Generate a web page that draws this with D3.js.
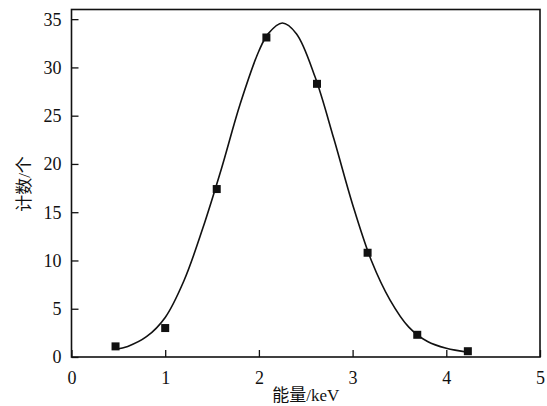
<!DOCTYPE html>
<html><head><meta charset="utf-8">
<script src="https://cdn.jsdelivr.net/npm/d3@7"></script>
<style>body{margin:0;background:#fff}</style>
</head><body>
<svg id="c" width="547" height="406"></svg>
<script>
const pointX = [0.47, 1.0, 1.55, 2.08, 2.62, 3.16, 3.69, 4.23];
const pointY = [1.1, 3.0, 17.4, 33.1, 28.3, 10.8, 2.3, 0.6];
const curveX = [0.47,0.6,0.8,1.0,1.2,1.4,1.6,1.8,2.0,2.1,2.25,2.4,2.6,2.8,3.0,3.2,3.4,3.6,3.8,4.0,4.23];
const curveY = [0.8,1.1,2.1,4.1,7.9,13.3,19.5,26.2,31.7,33.5,34.6,33.5,29.0,22.6,15.8,10.0,5.9,3.1,1.6,0.9,0.5];
const xTicks = [0,1,2,3,4,5];
const yTicks = [0,5,10,15,20,25,30,35];
const xLabel = "能量/keV";
const yLabel = "计数/个";

const svg = d3.select("#c");
const L = 71.5, R = 540, T = 9.5, B = 357;
const x = d3.scaleLinear().domain([0,5]).range([L,R]);
const y = d3.scaleLinear().domain([0,36]).range([B,T]);
const serif = "Liberation Serif, serif";
const cjk = "Liberation Serif, Noto Sans CJK SC, serif";

// frame
svg.append("rect").attr("x",L).attr("y",T).attr("width",R-L).attr("height",B-T)
  .attr("fill","none").attr("stroke","#111").attr("stroke-width",1.6);

const xa = svg.append("g").attr("transform",`translate(0,${B})`)
  .call(d3.axisBottom(x).tickValues(xTicks).tickSize(-7).tickPadding(12).tickFormat(d3.format("d")));
const ya = svg.append("g").attr("transform",`translate(${L},0)`)
  .call(d3.axisLeft(y).tickValues(yTicks).tickSize(-7).tickPadding(10).tickFormat(d3.format("d")));
[xa,ya].forEach(a=>{
  a.attr("font-family",serif).attr("font-size",18);
  a.select(".domain").remove();
  a.selectAll(".tick line").attr("stroke","#111").attr("stroke-width",1.3);
  a.selectAll(".tick text").attr("fill","#111").attr("font-family",serif).attr("font-size",18);
});
xa.selectAll(".tick text").attr("dy","0.85em");
ya.selectAll(".tick text").attr("dy","0.33em");

// curve
const cdata = curveX.map((v,i)=>[v,curveY[i]]);
svg.append("path").datum(cdata)
  .attr("d", d3.line().x(d=>x(d[0])).y(d=>y(d[1])).curve(d3.curveCatmullRom.alpha(0.5)))
  .attr("fill","none").attr("stroke","#111").attr("stroke-width",1.6);

// points
const s = 8;
svg.selectAll("rect.pt").data(pointX.map((v,i)=>[v,pointY[i]])).enter().append("rect")
  .attr("class","pt").attr("x",d=>x(d[0])-s/2).attr("y",d=>y(d[1])-s/2)
  .attr("width",s).attr("height",s).attr("fill","#111");

// labels
svg.append("text").attr("x",(L+R)/2).attr("y",401).attr("text-anchor","middle")
  .attr("font-family",cjk).attr("font-size",17).attr("fill","#111").text(xLabel);
svg.append("text").attr("transform","translate(30,184) rotate(-90)").attr("text-anchor","middle")
  .attr("font-family",cjk).attr("font-size",17).attr("fill","#111").text(yLabel);
</script>
</body></html>
